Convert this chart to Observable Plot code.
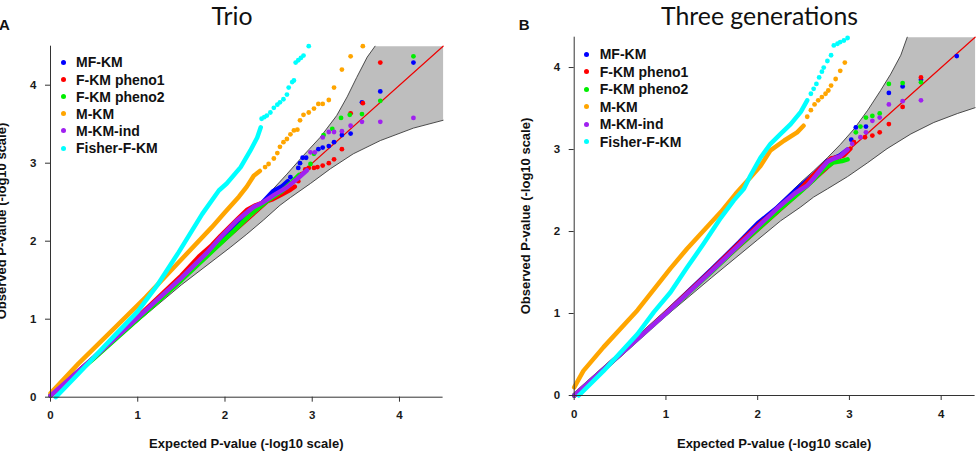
<!DOCTYPE html>
<html>
<head>
<meta charset="utf-8">
<script src="https://cdn.jsdelivr.net/npm/d3@7"></script>
<script src="https://cdn.jsdelivr.net/npm/@observablehq/plot@0.6"></script>
<style>
  body { margin: 0; background: #fff; }
  #fig { position: relative; width: 976px; height: 454px; overflow: hidden;
         font-family: "Liberation Sans", Arial, sans-serif; color: #111; }
  .panel { position: absolute; top: 0; width: 488px; height: 454px; }
  .panel svg { position: absolute; left: 0; top: 0; }
  .txt { position: absolute; white-space: nowrap; }
  .title { font-family: Lato, "Open Sans", sans-serif; font-size: 24.8px; line-height: 24.8px;
           font-weight: 400; transform: translateX(-50%); }
  .letter { font-size: 15px; line-height: 15px; font-weight: bold; }
  .axtitle { font-size: 13px; line-height: 13px; font-weight: bold; }
  .leg { font-size: 14px; line-height: 14px; font-weight: bold; }
  .dot { position: absolute; width: 5px; height: 5px; border-radius: 50%; }
</style>
</head>
<body>
<div id="fig"></div>
<script>
// Method names and their colours (legend order = drawing order)
const methods = ["MF-KM", "F-KM pheno1", "F-KM pheno2", "M-KM", "M-KM-ind", "Fisher-F-KM"];
const palette = ["#0000ff", "#ff0000", "#00ee00", "#ffa500", "#a020f0", "#00ffff"];
const ticks = [0, 1, 2, 3, 4];

// ---------- Trio: [expected, observed] in -log10 scale ----------
// 95% confidence band around the null expectation
const trioUpper = [[0,0],[0.5,0.51],[1,1.03],[1.5,1.55],[1.95,1.99],[2.14,2.18],[2.33,2.39],[2.52,2.63],[2.71,2.86],[2.9,3.1],[3.09,3.33],[3.28,3.61],[3.4,3.85],[3.51,4.1],[3.63,4.36],[3.72,4.5]];
const trioLower = [[0,0],[0.5,0.49],[1,0.97],[1.5,1.44],[2.06,1.92],[2.25,2.09],[2.44,2.27],[2.63,2.46],[2.75,2.56],[2.98,2.74],[3.21,2.93],[3.47,3.12],[3.78,3.29],[4.16,3.45],[4.5,3.55]];

// dense body of each QQ curve
const trioMFKM = [[0,0.02],[0.5,0.51],[1,1.02],[1.5,1.54],[1.8,1.86],[2,2.07],[2.2,2.27],[2.4,2.46],[2.55,2.64],[2.65,2.7],[2.72,2.77]];
const trioFKM1 = [[0,0.02],[0.5,0.51],[1,1.03],[1.5,1.56],[1.7,1.8],[1.85,1.95],[1.95,2.07],[2.14,2.28],[2.25,2.4],[2.35,2.46],[2.45,2.5],[2.55,2.54],[2.65,2.6],[2.75,2.66],[2.8,2.7]];
const trioFKM2 = [[0,0.02],[0.5,0.5],[1,1],[1.5,1.5],[1.9,1.92],[2.1,2.13],[2.3,2.35],[2.5,2.53],[2.65,2.64],[2.75,2.74],[2.85,2.85]];
const trioMKM = [[0,0.05],[0.32,0.43],[0.71,0.86],[1.09,1.28],[1.47,1.73],[1.85,2.18],[2,2.37],[2.16,2.57],[2.25,2.7],[2.33,2.84],[2.4,2.9]];
const trioMKMind = [[0,0.02],[0.5,0.51],[1,1.02],[1.5,1.53],[1.8,1.86],[1.95,2.05],[2.14,2.27],[2.33,2.44],[2.44,2.5],[2.56,2.59],[2.71,2.69],[2.83,2.8],[2.94,2.91]];
const trioFisher = [[0.06,0],[0.32,0.3],[0.71,0.76],[1,1.1],[1.22,1.43],[1.47,1.86],[1.74,2.35],[1.93,2.65],[2.02,2.74],[2.18,2.95],[2.29,3.16],[2.37,3.33],[2.41,3.46]];

// individually visible top hits
const trioMFKMTail = [[2.75,2.82],[2.84,2.94],[2.86,3],[2.89,3.07],[2.93,3.07],[3.07,3.18],[3.12,3.2],[3.19,3.22],[3.25,3.27],[3.34,3.36],[3.44,3.38],[3.57,3.78],[3.78,3.92],[4.16,4.29]];
const trioFKM1Tail = [[2.84,2.77],[2.88,2.86],[2.92,2.92],[2.96,2.94],[3.02,2.94],[3.06,2.95],[3.12,2.97],[3.19,3],[3.25,3.05],[3.34,3.18],[3.44,3.64],[3.58,3.77],[3.78,4.29]];
const trioFKM2Tail = [[2.98,2.99],[3.02,3.12],[3.13,3.36],[3.23,3.44],[3.33,3.58],[3.43,3.62],[3.57,3.63],[3.78,3.8],[4.16,4.37]];
const trioMKMTail = [[2.46,2.95],[2.5,2.99],[2.56,3.06],[2.6,3.13],[2.63,3.21],[2.67,3.27],[2.71,3.31],[2.75,3.37],[2.79,3.42],[2.83,3.43],[2.86,3.55],[2.9,3.62],[2.96,3.65],[3.02,3.7],[3.07,3.76],[3.12,3.76],[3.19,3.81],[3.25,3.97],[3.34,4.2],[3.44,4.37],[3.58,4.5]];
const trioMKMindTail = [[2.98,3.14],[3.03,3.14],[3.12,3.33],[3.19,3.4],[3.25,3.4],[3.34,3.41],[3.44,3.48],[3.57,3.53],[3.78,3.53],[4.16,3.58]];
const trioFisherTail = [[2.42,3.57],[2.45,3.59],[2.48,3.61],[2.52,3.65],[2.56,3.71],[2.6,3.75],[2.63,3.78],[2.67,3.82],[2.71,3.88],[2.73,3.97],[2.77,4.04],[2.79,4.06],[2.81,4.29],[2.84,4.32],[2.87,4.35],[2.9,4.38],[2.96,4.5]];

// ---------- Three generations ----------
const genUpper = [[0,0],[0.5,0.51],[1,1.03],[1.5,1.55],[2,2.09],[2.25,2.36],[2.47,2.6],[2.61,2.74],[2.76,2.9],[2.9,3.06],[3.05,3.25],[3.2,3.48],[3.34,3.72],[3.45,3.92],[3.56,4.15],[3.63,4.37]];
const genLower = [[0,0],[0.5,0.49],[1,0.97],[1.5,1.44],[2,1.9],[2.25,2.13],[2.47,2.3],[2.61,2.42],[2.76,2.52],[2.98,2.67],[3.2,2.84],[3.41,3.01],[3.67,3.19],[3.92,3.33],[4.18,3.44],[4.37,3.51]];

const genMFKM = [[0,0],[0.5,0.5],[1,1.01],[1.5,1.54],[1.8,1.87],[2,2.1],[2.2,2.28],[2.41,2.5],[2.6,2.68],[2.76,2.86],[2.9,2.93],[2.98,3]];
const genFKM1 = [[0,0],[0.5,0.5],[1,1.01],[1.5,1.53],[1.8,1.86],[2.05,2.12],[2.25,2.3],[2.45,2.5],[2.6,2.68],[2.69,2.78],[2.8,2.89],[2.89,2.91],[2.94,2.93],[3.01,3.01]];
const genFKM2 = [[0,0],[0.5,0.5],[1,1],[1.5,1.51],[1.8,1.83],[2.05,2.08],[2.25,2.28],[2.45,2.47],[2.6,2.62],[2.72,2.76],[2.82,2.84],[2.92,2.86],[2.98,2.88]];
const genMKM = [[0,0.1],[0.1,0.3],[0.32,0.59],[0.69,1.04],[1.05,1.55],[1.23,1.79],[1.41,2.01],[1.6,2.24],[1.76,2.46],[1.92,2.66],[2.03,2.8],[2.14,2.99],[2.29,3.11],[2.43,3.21],[2.5,3.29]];
const genMKMind = [[0,0],[0.5,0.5],[1,1],[1.5,1.52],[1.8,1.84],[2.05,2.11],[2.23,2.3],[2.41,2.47],[2.54,2.56],[2.61,2.65],[2.69,2.76],[2.76,2.85],[2.83,2.89],[2.9,2.92],[2.98,3]];
const genFisher = [[0.05,0],[0.32,0.3],[0.69,0.75],[0.87,1.02],[1.05,1.26],[1.23,1.56],[1.41,1.85],[1.6,2.17],[1.74,2.38],[1.85,2.52],[1.92,2.68],[2.03,2.9],[2.14,3.07],[2.25,3.19],[2.36,3.31],[2.47,3.46],[2.54,3.6]];

const genMFKMTail = [[3.02,3.12],[3.07,3.27],[3.18,3.28],[3.43,3.69],[3.58,3.77],[3.78,3.85],[4.17,4.14]];
const genFKM1Tail = [[3.05,3.09],[3.17,3.15],[3.25,3.17],[3.33,3.21],[3.43,3.31],[3.58,3.52],[3.78,3.88]];
const genFKM2Tail = [[3.07,3.21],[3.12,3.28],[3.18,3.39],[3.25,3.41],[3.33,3.44],[3.43,3.8],[3.58,3.81],[3.78,3.82]];
const genMKMTail = [[2.54,3.4],[2.58,3.48],[2.62,3.55],[2.66,3.6],[2.7,3.64],[2.74,3.68],[2.77,3.72],[2.8,3.78],[2.85,3.86],[2.9,3.96],[2.95,4.06]];
const genMKMindTail = [[3.03,3.07],[3.12,3.15],[3.18,3.21],[3.25,3.35],[3.33,3.39],[3.43,3.55],[3.58,3.59],[3.78,3.6]];
const genFisherTail = [[2.58,3.68],[2.61,3.74],[2.64,3.8],[2.67,3.88],[2.7,3.95],[2.72,4],[2.76,4.08],[2.8,4.15],[2.83,4.27],[2.87,4.29],[2.9,4.31],[2.94,4.33],[2.98,4.36]];

const X = d => d[0], Y = d => d[1];
const fig = document.getElementById("fig");

function el(parent, cls, text, css) {
  const e = document.createElement("div");
  e.className = cls;
  if (text != null) e.textContent = text;
  Object.assign(e.style, css);
  parent.appendChild(e);
  return e;
}

function drawPanel(cfg) {
  const { left, title, titleX, letter, letterX, max, m, dense, tails, upper, lower, legStart, legStep } = cfg;
  const W = 488, H = 454;
  const div = el(fig, "panel", null, { left: left + "px" });

  // closed polygon of the confidence band (clipped at the top of the frame)
  const band = [...upper, [max, max], ...lower.slice().reverse()];
  const diag = [0, max];

  const marks = [
    Plot.line(band, { x: X, y: Y, fill: "#bebebe", stroke: "none" }),
    Plot.line(upper, { x: X, y: Y, stroke: "#3a3a3a", strokeWidth: 0.9 }),
    Plot.line(lower, { x: X, y: Y, stroke: "#3a3a3a", strokeWidth: 0.9 }),
    Plot.line(diag, { x: d => d, y: d => d, stroke: "#ee0000", strokeWidth: 1.2 })
  ];
  dense.forEach((s, i) => {
    marks.push(Plot.line(s, { x: X, y: Y, stroke: palette[i], strokeWidth: 4.5,
                               strokeLinecap: "round", strokeLinejoin: "round" }));
    marks.push(Plot.dot(tails[i], { x: X, y: Y, r: 2.4, fill: palette[i], stroke: "none" }));
  });
  const axisOpts = { ticks, tickSize: 5, tickPadding: 9, tickFormat: d => String(d),
                     fontSize: 11.5, fontWeight: "bold", label: null, stroke: "#333" };
  marks.push(
    Plot.ruleX([0], { stroke: "#333", strokeWidth: 1 }),
    Plot.ruleY([0], { stroke: "#333", strokeWidth: 1 }),
    Plot.axisX(axisOpts),
    Plot.axisY(axisOpts)
  );

  const svg = Plot.plot({
    width: W, height: H,
    marginTop: m.top, marginRight: m.right, marginBottom: m.bottom, marginLeft: m.left,
    x: { domain: [0, max] },
    y: { domain: [0, max] },
    style: { fontFamily: "'Liberation Sans', Arial, sans-serif", color: "#1a1a1a", background: "transparent", overflow: "visible" },
    marks
  });
  div.appendChild(svg);

  const plotCx = (m.left + (W - m.right)) / 2;
  const plotCy = (m.top + (H - m.bottom)) / 2;

  el(div, "txt title", title, { left: titleX + "px", top: "3.5px" });
  el(div, "txt letter", letter, { left: letterX + "px", top: "16.5px" });
  el(div, "txt axtitle", "Expected P-value (-log10 scale)",
     { left: plotCx + "px", top: "436.5px", transform: "translateX(-50%)" });
  el(div, "txt axtitle", "Observed P-value (-log10 scale)",
     { left: (m.left - 49) + "px", top: plotCy + "px", transform: "translate(-50%,-50%) rotate(-90deg)" });

  methods.forEach((name, i) => {
    const cy = m.top + legStart + i * legStep;
    el(div, "dot", null, { left: (m.left + 13 - 2.5) + "px", top: (cy - 2.5) + "px", background: palette[i] });
    el(div, "txt leg", name, { left: (m.left + 26) + "px", top: (cy - 6.9) + "px" });
  });
}

drawPanel({
  left: 0, title: "Trio", titleX: 232, letter: "A", letterX: -1, max: 4.5,
  m: { top: 45.7, right: 45.4, bottom: 57.3, left: 50 },
  dense: [trioMFKM, trioFKM1, trioFKM2, trioMKM, trioMKMind, trioFisher],
  tails: [trioMFKMTail, trioFKM1Tail, trioFKM2Tail, trioMKMTail, trioMKMindTail, trioFisherTail],
  upper: trioUpper, lower: trioLower, legStart: 16.6, legStep: 17.15
});

drawPanel({
  left: 488, title: "Three generations", titleX: 271.5, letter: "B", letterX: 30.7, max: 4.37,
  m: { top: 36.7, right: 1.4, bottom: 59, left: 85.7 },
  dense: [genMFKM, genFKM1, genFKM2, genMKM, genMKMind, genFisher],
  tails: [genMFKMTail, genFKM1Tail, genFKM2Tail, genMKMTail, genMKMindTail, genFisherTail],
  upper: genUpper, lower: genLower, legStart: 17.6, legStep: 17.45
});
</script>
</body>
</html>
